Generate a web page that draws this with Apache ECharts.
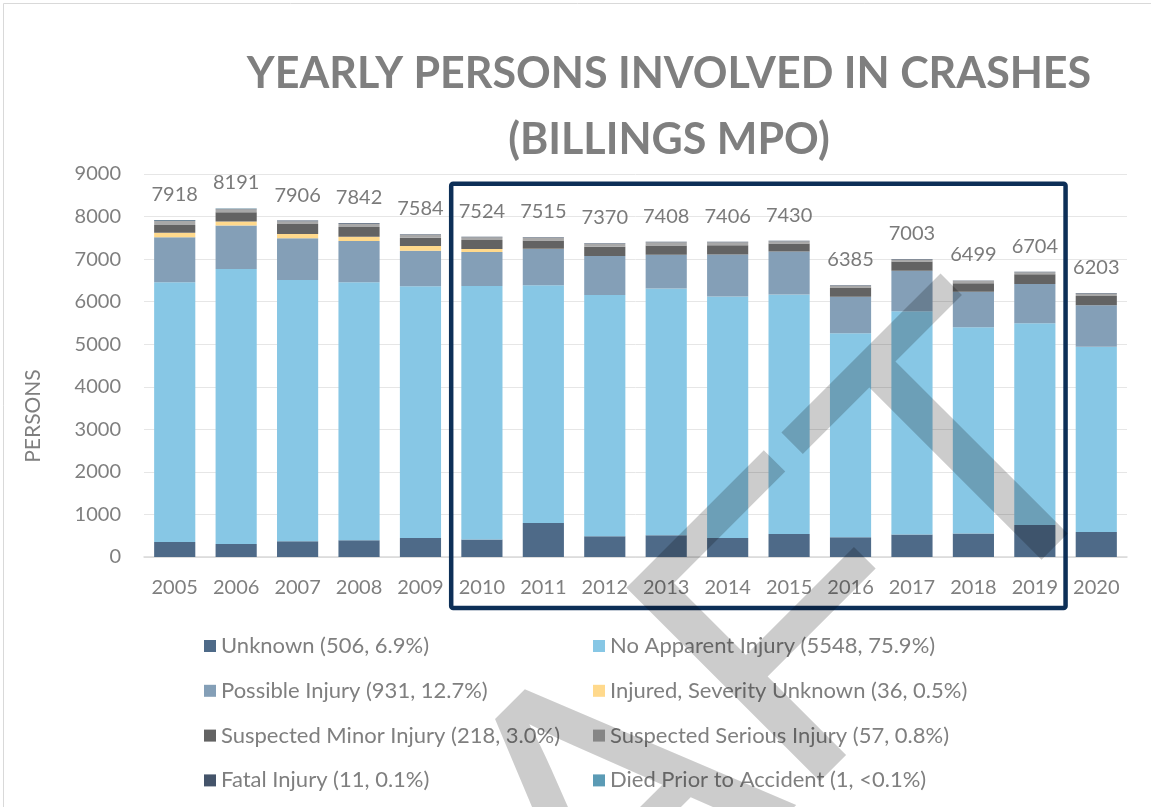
<!DOCTYPE html>
<html>
<head>
<meta charset="utf-8">
<script src="https://cdn.jsdelivr.net/npm/echarts@6/dist/echarts.min.js"></script>
<style>
  html, body { margin: 0; padding: 0; background: #fff; }
  #main { width: 1151px; height: 807px; }
</style>
</head>
<body>
<div id="main"></div>
<script>
// persons involved in crashes per year, Billings MPO
var years = ['2005', '2006', '2007', '2008', '2009', '2010', '2011', '2012', '2013', '2014', '2015', '2016', '2017', '2018', '2019', '2020'];
var totals = [7918, 8191, 7906, 7842, 7584, 7524, 7515, 7370, 7408, 7406, 7430, 6385, 7003, 6499, 6704, 6203];

var unknown = [353, 306, 369, 392, 447, 409, 800, 486, 510, 447, 541, 463, 526, 550, 752, 588];
var noApparent = [6103, 6463, 6141, 6064, 5915, 5960, 5585, 5671, 5800, 5675, 5628, 4797, 5246, 4851, 4740, 4352];
var possible = [1058, 1018, 980, 971, 837, 799, 853, 917, 792, 987, 1011, 858, 957, 834, 924, 975];
var injuredUnknown = [108, 94, 101, 101, 110, 70, 5, 0, 0, 0, 0, 0, 0, 0, 0, 0];
var minor = [181, 221, 235, 228, 195, 212, 195, 219, 219, 219, 188, 212, 212, 197, 228, 219];
var serious = [95, 72, 65, 72, 68, 62, 62, 66, 75, 66, 50, 45, 52, 57, 50, 58];
var fatal = [15, 12, 15, 14, 12, 12, 15, 11, 12, 12, 12, 10, 10, 10, 10, 11];
var died = [5, 5, 0, 0, 0, 0, 0, 0, 0, 0, 0, 0, 0, 0, 0, 0];

var names = [
  'Unknown (506, 6.9%)',
  'No Apparent Injury (5548, 75.9%)',
  'Possible Injury (931, 12.7%)',
  'Injured, Severity Unknown (36, 0.5%)',
  'Suspected Minor Injury (218, 3.0%)',
  'Suspected Serious Injury (57, 0.8%)',
  'Fatal Injury (11, 0.1%)',
  'Died Prior to Accident (1, <0.1%)'
];
var colors = ['#4e6a88', '#87c7e5', '#849fb7', '#ffd98c', '#636363', '#a8a8a8', '#44546a', '#5b9bb5'];
var seriesData = [unknown, noApparent, possible, injuredUnknown, minor, serious, fatal, died];

var FONT = 'Lato';
var GRAY = '#7f7f7f';

var series = [];
for (var i = 0; i < names.length; i++) {
  series.push({
    name: names[i],
    type: 'bar',
    stack: 'persons',
    barCategoryGap: '33%',
    itemStyle: { color: colors[i] },
    data: seriesData[i]
  });
}
// totals on top of each bar
series.push({
  name: 'Total',
  type: 'scatter',
  symbolSize: 1,
  itemStyle: { color: 'rgba(0,0,0,0)' },
  label: {
    show: true,
    position: 'top',
    distance: 15,
    color: '#595959',
    fontFamily: FONT,
    fontSize: 20
  },
  data: totals,
  z: 5
});

var option = {
  animation: false,
  color: colors,
  title: {
    text: 'YEARLY PERSONS INVOLVED IN CRASHES\n(BILLINGS MPO)',
    left: 669,
    top: 41,
    textAlign: 'center',
    padding: 0,
    textStyle: {
      fontFamily: FONT,
      fontWeight: 'bold',
      fontSize: 43,
      lineHeight: 66,
      color: GRAY
    }
  },
  legend: [{
    orient: 'vertical',
    left: 199,
    top: 630,
    itemWidth: 12,
    itemHeight: 12,
    itemGap: 22.8,
    icon: 'rect',
    textStyle: { fontFamily: FONT, fontSize: 22, color: GRAY },
    data: [names[0], names[2], names[4], names[6]]
  }, {
    orient: 'vertical',
    left: 588,
    top: 630,
    itemWidth: 12,
    itemHeight: 12,
    itemGap: 22.8,
    icon: 'rect',
    textStyle: { fontFamily: FONT, fontSize: 22, color: GRAY },
    data: [names[1], names[3], names[5], names[7]]
  }],
  grid: {
    left: 144,
    right: 24,
    top: 174,
    bottom: 250,
    outerBoundsMode: 'none'
  },
  xAxis: {
    type: 'category',
    data: years,
    axisTick: { show: false },
    axisLine: { lineStyle: { color: '#d9d9d9', width: 1.5 } },
    axisLabel: { margin: 21, fontFamily: FONT, fontSize: 20, color: GRAY }
  },
  yAxis: {
    type: 'value',
    min: 0,
    max: 9000,
    interval: 1000,
    axisLine: { show: false },
    axisTick: { show: false },
    splitLine: { lineStyle: { color: '#e6e6e6', width: 1 } },
    axisLabel: {
      margin: 23,
      fontFamily: FONT,
      fontSize: 20,
      color: GRAY,
      formatter: function (v) { return String(v); }
    }
  },
  graphic: [{
    id: 'frame',
    type: 'rect',
    silent: true,
    shape: { x: 3.5, y: 3.5, width: 1200, height: 900 },
    style: { fill: 'none', stroke: '#d9d9d9', lineWidth: 1 }
  }, {
    id: 'ytitle',
    type: 'text',
    x: 33,
    y: 416,
    rotation: Math.PI / 2,
    style: {
      text: 'PERSONS',
      fontFamily: FONT,
      fontSize: 21,
      fill: GRAY,
      align: 'center',
      verticalAlign: 'middle'
    }
  }],
  series: series
};

var chart = echarts.init(document.getElementById('main'), null, { renderer: 'canvas' });
chart.setOption(option);

// box around 2010-2019, taken from the axis
var x2005 = chart.convertToPixel({ xAxisIndex: 0 }, years[0]);
var band = chart.convertToPixel({ xAxisIndex: 0 }, years[1]) - x2005;
var xL = chart.convertToPixel({ xAxisIndex: 0 }, '2010') - band / 2;
var xR = chart.convertToPixel({ xAxisIndex: 0 }, '2019') + band / 2;
var yT = chart.convertToPixel({ yAxisIndex: 0 }, 8770);
var yB = chart.convertToPixel({ yAxisIndex: 0 }, 0) + 51;

chart.setOption({
  graphic: [{
    id: 'focus',
    type: 'rect',
    silent: true,
    z: 50,
    shape: { x: xL, y: yT, width: xR - xL, height: yB - yT, r: 2 },
    style: { fill: 'none', stroke: '#0d2f57', lineWidth: 4.5 }
  }, {
    id: 'draft',
    type: 'text',
    silent: true,
    z: 100,
    x: 1063,
    y: 383,
    rotation: Math.PI / 4,
    style: {
      text: 'DRAFT',
      font: '398px "Liberation Sans"',
      fill: 'rgba(0,0,0,0.2)',
      align: 'right',
      verticalAlign: 'middle'
    }
  }]
});
</script>
</body>
</html>
